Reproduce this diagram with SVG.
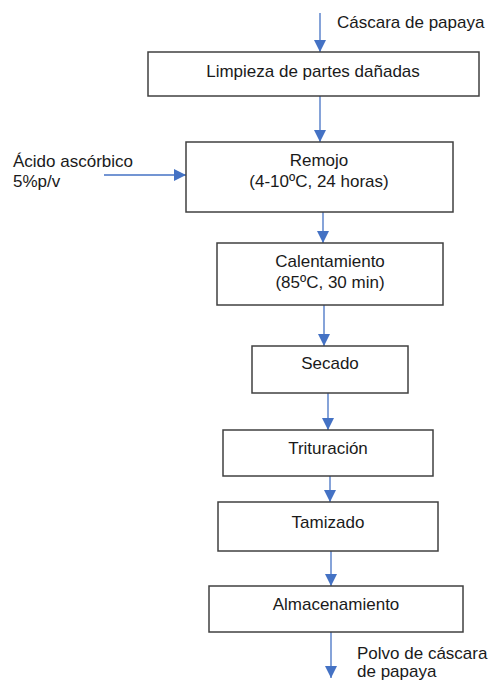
<svg xmlns="http://www.w3.org/2000/svg" width="495" height="680" viewBox="0 0 495 680">
<style>
.box{fill:#fff;stroke:#404040;stroke-width:1.5}
.t{font-family:"Liberation Sans",Arial,sans-serif;font-size:17px;fill:#1a1a1a}
.c{text-anchor:middle}
.ln{stroke:#4472C4;stroke-width:1.3;fill:none}
</style>
<defs>
<marker id="ah" viewBox="0 0 12 12" refX="12" refY="6" markerWidth="12" markerHeight="12" markerUnits="userSpaceOnUse" orient="auto">
<path d="M0,0 L12,6 L0,12 Z" fill="#4472C4"/>
</marker>
</defs>
<rect width="495" height="680" fill="#fff"/>
<g id="connectors">
<line class="ln" x1="320" y1="13" x2="320" y2="52" marker-end="url(#ah)"/>
<line class="ln" x1="320" y1="96" x2="320" y2="142" marker-end="url(#ah)"/>
<line class="ln" x1="104" y1="175" x2="186" y2="175" marker-end="url(#ah)"/>
<line class="ln" x1="323" y1="212" x2="323" y2="243" marker-end="url(#ah)"/>
<line class="ln" x1="324" y1="305" x2="324" y2="346" marker-end="url(#ah)"/>
<line class="ln" x1="328" y1="393" x2="328" y2="430" marker-end="url(#ah)"/>
<line class="ln" x1="330" y1="476" x2="330" y2="502" marker-end="url(#ah)"/>
<line class="ln" x1="331" y1="551" x2="331" y2="586" marker-end="url(#ah)"/>
<line class="ln" x1="331" y1="632" x2="331" y2="678" marker-end="url(#ah)"/>
</g>
<g id="input-label"><text class="t" x="337" y="28">Cáscara de papaya</text></g>
<g id="additive-label"><text class="t" x="13" y="167">Ácido ascórbico</text><text class="t" x="13" y="187">5%p/v</text></g>
<g id="output-label"><text class="t" x="357" y="659">Polvo de cáscara</text><text class="t" x="357" y="677">de papaya</text></g>
<g id="limpieza"><rect class="box" x="148" y="52" width="331" height="44"/><text class="t c" x="313" y="77">Limpieza de partes dañadas</text></g>
<g id="remojo"><rect class="box" x="186" y="142" width="267" height="70"/><text class="t c" x="319" y="166">Remojo</text><text class="t c" x="319" y="187">(4-10ºC, 24 horas)</text></g>
<g id="calentamiento"><rect class="box" x="217" y="243" width="226" height="62"/><text class="t c" x="330" y="267">Calentamiento</text><text class="t c" x="330" y="288">(85ºC, 30 min)</text></g>
<g id="secado"><rect class="box" x="252" y="346" width="156" height="47"/><text class="t c" x="330" y="369">Secado</text></g>
<g id="trituracion"><rect class="box" x="223" y="430" width="210" height="46"/><text class="t c" x="328" y="454">Trituración</text></g>
<g id="tamizado"><rect class="box" x="218" y="502" width="220" height="49"/><text class="t c" x="328" y="528">Tamizado</text></g>
<g id="almacenamiento"><rect class="box" x="209" y="586" width="254" height="46"/><text class="t c" x="336" y="610">Almacenamiento</text></g>
</svg>
